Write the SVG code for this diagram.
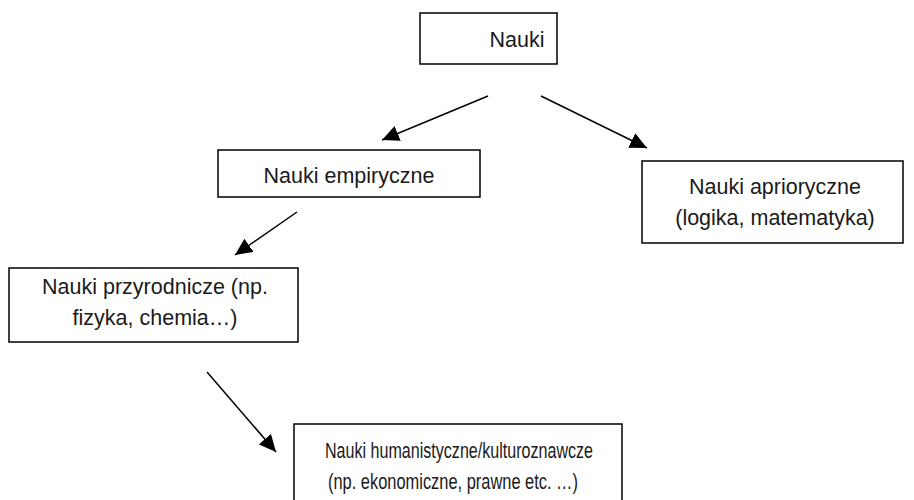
<svg xmlns="http://www.w3.org/2000/svg" width="914" height="500" viewBox="0 0 914 500">
<defs>
<style>
.box{fill:#fff;stroke:#000;stroke-width:1.5}
.t{font-family:"Liberation Sans",Arial,sans-serif;font-size:21.5px;fill:#1a1a1a;text-anchor:middle}
.s{text-anchor:start;font-size:22px}
.c{stroke:#000;stroke-width:1.5;fill:none;marker-end:url(#ah)}
</style>
<marker id="ah" markerUnits="userSpaceOnUse" markerWidth="18" markerHeight="16" viewBox="0 0 18 16" refX="17" refY="8" orient="auto">
<path d="M0,0 L17,8 L0,16 Z" fill="#000"/>
</marker>
</defs>
<rect width="914" height="500" fill="#fff"/>
<g id="connectors">
<line class="c" x1="488" y1="96" x2="382" y2="140"/>
<line class="c" x1="541" y1="96" x2="647" y2="148"/>
<line class="c" x1="297" y1="212" x2="235" y2="255"/>
<line class="c" x1="207" y1="372" x2="276" y2="452"/>
</g>
<g id="nauki">
<rect class="box" x="420" y="13" width="137" height="51"/>
<text class="t" x="517" y="47">Nauki</text>
</g>
<g id="empiryczne">
<rect class="box" x="218" y="150" width="262" height="47"/>
<text class="t" x="349" y="183">Nauki empiryczne</text>
</g>
<g id="aprioryczne">
<rect class="box" x="642" y="161" width="261" height="82"/>
<text class="t" x="775" y="194">Nauki aprioryczne</text>
<text class="t" x="775" y="225">(logika, matematyka)</text>
</g>
<g id="przyrodnicze">
<rect class="box" x="9" y="268" width="289" height="74"/>
<text class="t" x="155" y="294">Nauki przyrodnicze (np.</text>
<text class="t" x="155" y="325">fizyka, chemia…)</text>
</g>
<g id="humanistyczne">
<rect class="box" x="294" y="424" width="328" height="90"/>
<text class="t s" x="325" y="458" textLength="268" lengthAdjust="spacingAndGlyphs">Nauki humanistyczne/kulturoznawcze</text>
<text class="t s" x="328" y="489" textLength="250" lengthAdjust="spacingAndGlyphs">(np. ekonomiczne, prawne etc. …)</text>
</g>
</svg>
